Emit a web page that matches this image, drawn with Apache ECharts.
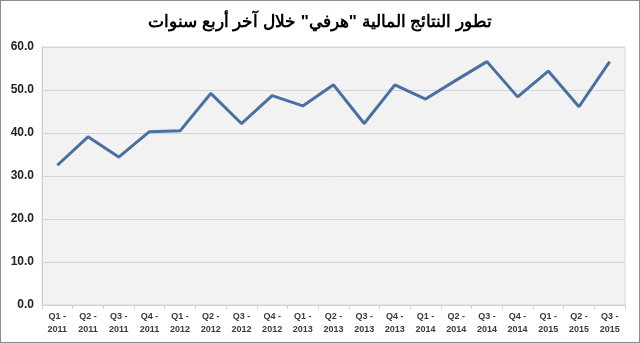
<!DOCTYPE html>
<html>
<head>
<meta charset="utf-8">
<script src="https://cdn.jsdelivr.net/npm/echarts@6/dist/echarts.min.js"></script>
<style>
html,body{margin:0;padding:0;background:#fff;}
#wrap{width:640px;height:343px;box-sizing:border-box;border:1px solid #8c8c8c;}
#c{width:638px;height:341px;}
</style>
</head>
<body>
<div id="wrap"><div id="c"></div></div>
<script>
const categories = ["Q1 -\n2011","Q2 -\n2011","Q3 -\n2011","Q4 -\n2011","Q1 -\n2012","Q2 -\n2012","Q3 -\n2012","Q4 -\n2012","Q1 -\n2013","Q2 -\n2013","Q3 -\n2013","Q4 -\n2013","Q1 -\n2014","Q2 -\n2014","Q3 -\n2014","Q4 -\n2014","Q1 -\n2015","Q2 -\n2015","Q3 -\n2015"];
const values = [32.5,39.1,34.4,40.3,40.5,49.2,42.2,48.7,46.3,51.2,42.2,51.2,47.9,52.3,56.6,48.4,54.4,46.1,56.6];
const titleText = 'تطور النتائج المالية "هرفي" خلال آخر أربع سنوات';

const chart = echarts.init(document.getElementById('c'), null, {renderer:'canvas'});
chart.setOption({
  animation:false,
  backgroundColor:'#fff',
  title:{text:titleText,left:'center',top:8,textStyle:{fontFamily:'Liberation Sans, Arial',fontWeight:'bold',fontSize:17,color:'#000'}},
  grid:{left:41,right:14,top:46,bottom:37,show:true,backgroundColor:'#f2f2f2',borderColor:'#d9d9d9',borderWidth:1},
  xAxis:{type:'category',data:categories,boundaryGap:true,
    axisLine:{lineStyle:{color:'#d0d0d0'}},
    axisTick:{show:true,length:4,lineStyle:{color:'#d0d0d0'}},
    axisLabel:{interval:0,color:'#3a3a3a',fontSize:9,fontWeight:'bold',fontFamily:'Liberation Sans, Arial',lineHeight:13,margin:5}},
  yAxis:{type:'value',min:0,max:60,interval:10,
    axisLine:{show:true,lineStyle:{color:'#d0d0d0'}},
    axisTick:{show:false},
    splitLine:{lineStyle:{color:'#d4d4dc'}},
    axisLabel:{formatter:v=>v.toFixed(1),color:'#222',fontSize:12,fontWeight:'bold',fontFamily:'Liberation Sans, Arial',margin:8}},
  series:[{type:'line',data:values,symbol:'none',lineStyle:{color:'#4a70a2',width:3}}]
});
</script>
</body>
</html>
